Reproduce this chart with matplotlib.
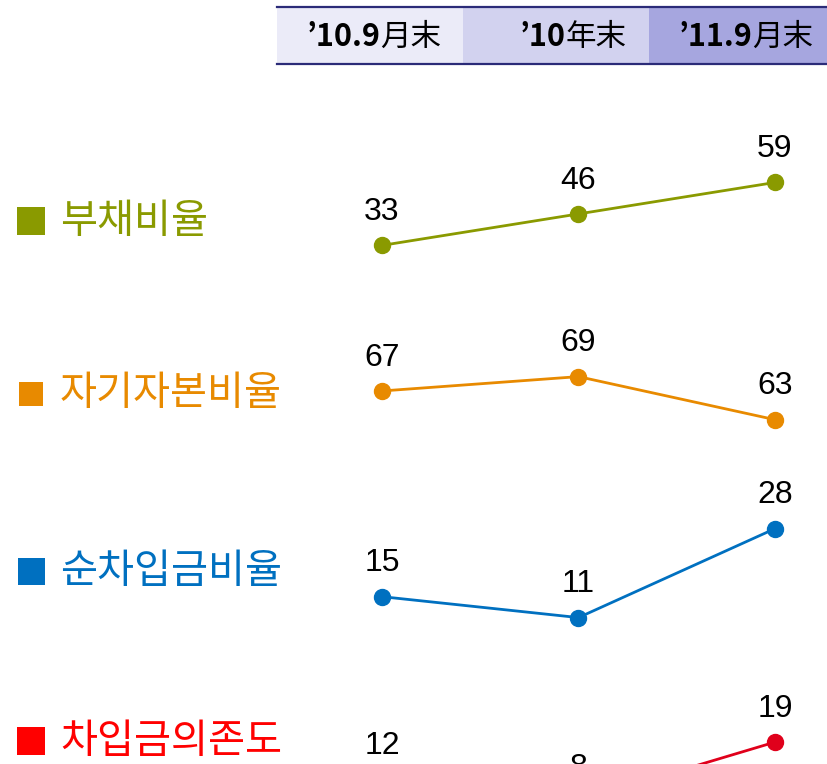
import matplotlib.pyplot as plt
from matplotlib.patches import Rectangle

W, H = 827, 764

periods = ["’10.9", "’10", "’11.9"]
period_suffix = ["月末", "年末", "月末"]

series_names = ["부채비율", "자기자본비율", "순차입금비율", "차입금의존도"]
debt_ratio = [33, 46, 59]
equity_ratio = [67, 69, 63]
net_borrow_ratio = [15, 11, 28]
borrow_dependence = [12, 8, 19]
series_values = [debt_ratio, equity_ratio, net_borrow_ratio, borrow_dependence]

line_colors = ["#8A9A00", "#E88A00", "#0070C0", "#E0001B"]
label_colors = ["#8A9A00", "#E88A00", "#0070C0", "#FF0000"]
square_colors = ["#8A9A00", "#E88A00", "#0070C0", "#FF0000"]

# per-row value range (bottom, top) so each panel sits in its own band
row_ylims = [(-181.3, 134.4), (15.0, 121.5), (-17.0, 129.1), (14.9, 158.0)]
label_y = [221, 394, 571, 741]     # pixel rows of legend labels (from top)
square_size = [28, 24, 27, 28]

kr = ["Noto Sans CJK KR", "DejaVu Sans"]
num_font = ["Liberation Sans", "DejaVu Sans"]


def fy(py):
    return 1 - py / H


def fx(px):
    return px / W


fig = plt.figure(figsize=(W / 100, H / 100), dpi=100)
fig.patch.set_facecolor("white")
renderer = fig.canvas.get_renderer()

# header band
box_colors = ["#EBEBF8", "#D2D2EF", "#A6A6DF"]
box_left = [277, 463, 649]
box_w = 186
for left, col in zip(box_left, box_colors):
    fig.patches.append(Rectangle((fx(left), fy(64)), fx(box_w), (64 - 7) / H,
                                 transform=fig.transFigure, facecolor=col,
                                 edgecolor="none"))
for yy in (7, 64):
    fig.add_artist(plt.Line2D([fx(277), 1], [fy(yy), fy(yy)],
                              transform=fig.transFigure, color="#2B2B78", lw=1.6))
for left, p, suf in zip(box_left, periods, period_suffix):
    right = left + box_w - 22
    t = fig.text(fx(right), fy(37), suf, ha="right", va="center",
                 fontsize=22, family=kr, color="black")
    w = t.get_window_extent(renderer).width
    fig.text(fx(right - w), fy(37), p, ha="right", va="center",
             fontsize=22, family=kr, fontweight="bold", color="black")

x = [0, 1, 2]
for i, vals in enumerate(series_values):
    ax = fig.add_axes([0, 0, 1, 1])
    ax.set_xlim(-1.944, 2.265)
    ax.set_ylim(*row_ylims[i])
    ax.axis("off")
    ax.patch.set_alpha(0)
    ax.plot(x, vals, color=line_colors[i], lw=2, marker="o", ms=11.5)
    for xi, v in zip(x, vals):
        ax.annotate(str(v), (xi, v), xytext=(0, 24), textcoords="offset points",
                    ha="center", va="center", fontsize=23, family=num_font,
                    color="black", annotation_clip=False)

    s = square_size[i]
    fig.patches.append(Rectangle((fx(31 - s / 2), fy(label_y[i] + s / 2)), s / W, s / H,
                                 transform=fig.transFigure,
                                 facecolor=square_colors[i], edgecolor="none"))
    fig.text(fx(60), fy(label_y[i]), series_names[i], ha="left", va="center",
             fontsize=29, family=kr, color=label_colors[i])

fig.savefig("out.png", dpi=100)
